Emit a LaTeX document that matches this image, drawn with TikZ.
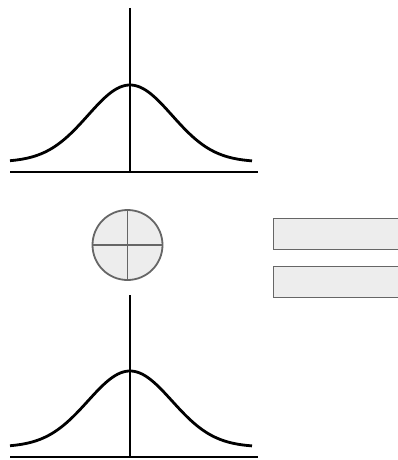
\documentclass[tikz,border=0pt]{standalone}
\begin{document}
\begin{tikzpicture}[x=1pt,y=-1pt,
  axis/.style={line width=2.8pt,black},
  bell/.style={line width=2.8pt,black,line join=round},
  grayshape/.style={draw=black!60,fill=black!7,line width=1.8pt,inner sep=0pt},
  cross/.style={draw=black!60,line width=1.8pt}]
\useasboundingbox (0,0) rectangle (398,460);
% top plot
\coordinate (t1) at (130,8);
\coordinate (t2) at (130,172);
\coordinate (tl) at (10,172);
\coordinate (tr) at (258,172);
\draw[axis] (t1) -- (t2);
\draw[axis] (tl) -- (tr);
\draw[bell] plot[domain=-120:122,samples=120] ({130+\x},{162-77*exp(-((\x/42)^2)/2)});
% bottom plot
\coordinate (b1) at (130,295);
\coordinate (b2) at (130,457);
\coordinate (bl) at (10,457);
\coordinate (br) at (258,457);
\draw[axis] (b1) -- (b2);
\draw[axis] (bl) -- (br);
\draw[bell] plot[domain=-120:122,samples=120] ({130+\x},{447-76*exp(-((\x/42)^2)/2)});
% circle with cross
\node[grayshape,circle,minimum size=70pt] (circ) at (127.5,245) {};
\draw[cross] (circ.north) -- (circ.south);
\draw[cross] (circ.west) -- (circ.east);
% rectangles
\node[grayshape,rectangle,minimum width=140pt,minimum height=31pt,anchor=west] (r1) at (272.5,234) {};
\node[grayshape,rectangle,minimum width=140pt,minimum height=31pt,anchor=west] (r2) at (272.5,282) {};
\end{tikzpicture}
\end{document}
